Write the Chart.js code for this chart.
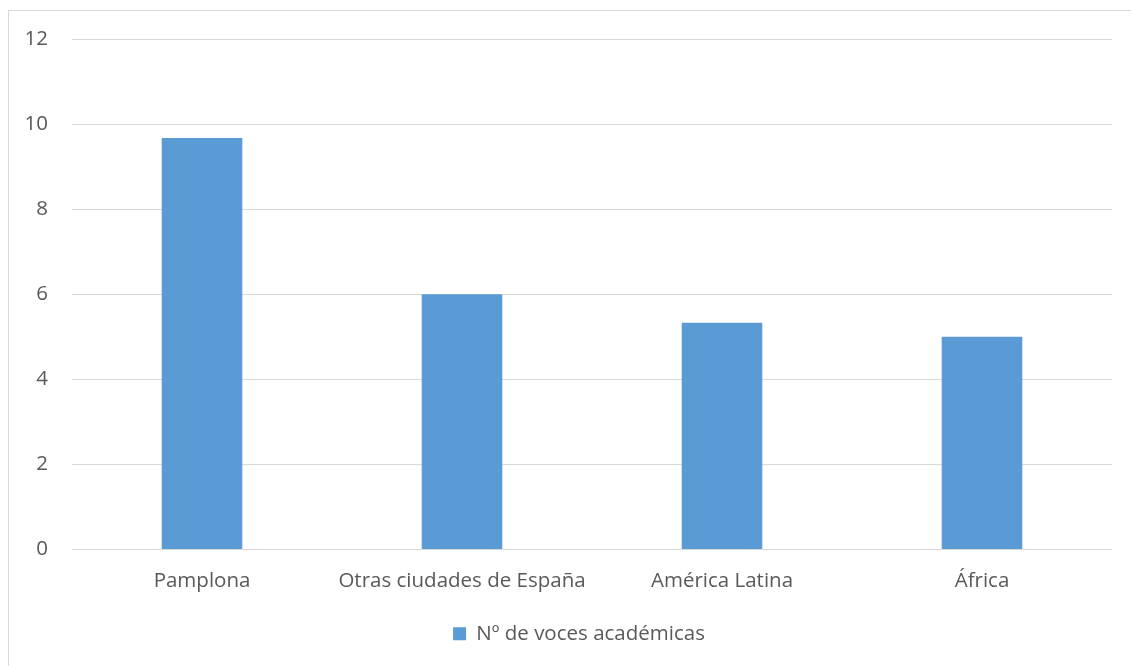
<!DOCTYPE html>
<html>
<head>
<meta charset="utf-8">
<script src="https://cdn.jsdelivr.net/npm/chart.js@4/dist/chart.umd.min.js"></script>
<style>
  html, body { margin: 0; padding: 0; background: #ffffff; }
  #frame { position: absolute; left: 8px; top: 10px; width: 1200px; height: 700px; border: 1px solid #d9d9d9; box-sizing: border-box; }
  #wrap { position: absolute; left: 0; top: 0; width: 1131px; height: 666px; }
</style>
</head>
<body>
<div id="frame"></div>
<div id="wrap"><canvas id="chart" width="1131" height="666"></canvas></div>
<script>
// Número de voces académicas por procedencia
const categories = ['Pamplona', 'Otras ciudades de España', 'América Latina', 'África'];
const voces = [9.67, 6, 5.33, 5];
const seriesName = 'Nº de voces académicas';
const yTicks = [0, 2, 4, 6, 8, 10, 12];

const textColor = '#595959';
const gridColor = '#d9d9d9';
const barColor = '#5b9bd5';
const fontFamily = "'Open Sans', 'Noto Sans', sans-serif";
const fontSize = 20.5;

// Center the legend under the plot area rather than under the whole canvas
const legendUnderPlot = {
  id: 'legendUnderPlot',
  afterLayout(chart) {
    if (chart.legend) {
      chart.legend.left = chart.chartArea.left - 26;
      chart.legend.right = chart.chartArea.right;
    }
  }
};

new Chart(document.getElementById('chart'), {
  type: 'bar',
  data: {
    labels: categories,
    datasets: [{
      label: seriesName,
      data: voces,
      backgroundColor: barColor,
      borderWidth: 0,
      categoryPercentage: 1,
      barPercentage: 0.31
    }]
  },
  plugins: [legendUnderPlot],
  options: {
    responsive: false,
    animation: false,
    devicePixelRatio: 1,
    layout: { padding: { left: 0, right: 19, top: 39, bottom: 12 } },
    plugins: {
      legend: {
        position: 'bottom',
        labels: {
          color: textColor,
          font: { family: fontFamily, size: fontSize },
          boxWidth: 13,
          boxHeight: 13,
          padding: 8
        }
      },
      tooltip: { enabled: false }
    },
    scales: {
      x: {
        grid: { display: false, drawTicks: false },
        border: { display: false },
        ticks: { color: textColor, font: { family: fontFamily, size: fontSize }, padding: 19, maxRotation: 0 },
        afterFit(scale) { scale.height = 66; }
      },
      y: {
        min: 0,
        max: 12,
        afterBuildTicks(scale) { scale.ticks = yTicks.map(v => ({ value: v })); },
        grid: { color: gridColor, lineWidth: 1, drawTicks: false },
        border: { display: false },
        ticks: { color: textColor, font: { family: fontFamily, size: fontSize }, padding: 24 },
        afterFit(scale) { scale.width = 72; }
      }
    }
  }
});
</script>
</body>
</html>
